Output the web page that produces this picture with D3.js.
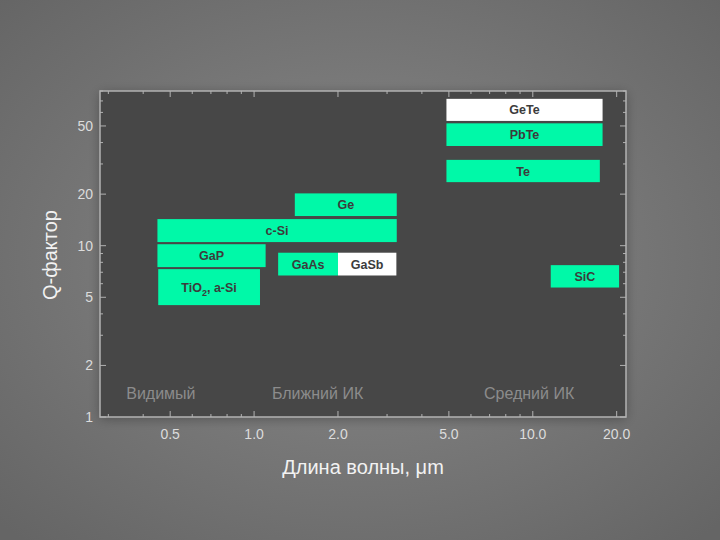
<!DOCTYPE html>
<html>
<head>
<meta charset="utf-8">
<script src="https://cdn.jsdelivr.net/npm/d3@7/dist/d3.min.js"></script>
<style>
  html, body { margin: 0; padding: 0; background: #777; }
  svg { display: block; }
  text { font-family: "Liberation Sans", Arial, sans-serif; }
</style>
</head>
<body>
<svg id="chart" width="720" height="540"></svg>
<script>
// ---- Data ----
const materials = ["GeTe", "PbTe", "Te", "Ge", "c-Si", "GaP", "TiO2, a-Si", "GaAs", "GaSb", "SiC"];
const lambdaMin = [4.9, 4.9, 4.9, 1.4, 0.45, 0.45, 0.453, 1.22, 2.0, 11.6];
const lambdaMax = [17.8, 17.8, 17.4, 3.25, 3.25, 1.1, 1.05, 2.0, 3.24, 20.4];
const qMin = [53.5, 38.2, 23.5, 14.9, 10.5, 7.5, 4.5, 6.7, 6.7, 5.7];
const qMax = [72, 51.8, 31.7, 20.2, 14.3, 10.2, 7.3, 9.1, 9.1, 7.7];
const highlighted = ["GeTe", "GaSb"]; // drawn in white

const xTickValues = [0.5, 1, 2, 5, 10, 20];
const xTickLabels = ["0.5", "1.0", "2.0", "5.0", "10.0", "20.0"];
const yTickValues = [1, 2, 5, 10, 20, 50];
const yTickLabels = ["1", "2", "5", "10", "20", "50"];

const regionNames = ["Видимый", "Ближний ИК", "Средний ИК"];
const regionCenters = [0.463, 1.69, 9.7];

const xTitle = "Длина волны, μm";
const yTitle = "Q-фактор";

// ---- Layout ----
const W = 720, H = 540;
const plot = { left: 100, right: 626, top: 91, bottom: 417 };

const svg = d3.select("#chart");
const defs = svg.append("defs");
const rg = defs.append("radialGradient").attr("id", "bg")
  .attr("cx", "50%").attr("cy", "48%").attr("r", "70%");
rg.append("stop").attr("offset", "0%").attr("stop-color", "#8a8a8a");
rg.append("stop").attr("offset", "100%").attr("stop-color", "#656565");

const flt = defs.append("filter").attr("id", "shadow")
  .attr("x", "-10%").attr("y", "-10%").attr("width", "120%").attr("height", "120%");
flt.append("feDropShadow").attr("dx", 0).attr("dy", 2).attr("stdDeviation", 6)
  .attr("flood-color", "#000").attr("flood-opacity", 0.3);

svg.append("rect").attr("width", W).attr("height", H).attr("fill", "url(#bg)");

const x = d3.scaleLog().domain([0.28, 21.6]).range([plot.left, plot.right]);
const y = d3.scaleLog().domain([1, 80]).range([plot.bottom, plot.top]);

// plot background
svg.append("rect")
  .attr("x", plot.left).attr("y", plot.top)
  .attr("width", plot.right - plot.left).attr("height", plot.bottom - plot.top)
  .attr("fill", "#464646").attr("filter", "url(#shadow)");

// region labels
svg.append("g").selectAll("text").data(regionNames).join("text")
  .attr("x", (d, i) => x(regionCenters[i]))
  .attr("y", 399)
  .attr("text-anchor", "middle")
  .attr("font-size", 16)
  .attr("fill", "#8c8c8c")
  .text(d => d);

// bars
const idx = d3.range(materials.length);
const green = "#00f9a8";
svg.append("g").selectAll("rect").data(idx).join("rect")
  .attr("x", i => x(lambdaMin[i]))
  .attr("y", i => y(qMax[i]))
  .attr("width", i => x(lambdaMax[i]) - x(lambdaMin[i]))
  .attr("height", i => y(qMin[i]) - y(qMax[i]))
  .attr("fill", i => highlighted.includes(materials[i]) ? "#ffffff" : green);

const labels = svg.append("g").selectAll("text").data(idx).join("text")
  .attr("x", i => (x(lambdaMin[i]) + x(lambdaMax[i])) / 2)
  .attr("y", i => (y(qMin[i]) + y(qMax[i])) / 2 + 4.5)
  .attr("text-anchor", "middle")
  .attr("font-size", 12.5)
  .attr("font-weight", "bold")
  .attr("fill", "#3c3c3c");
labels.each(function(i) {
  const t = d3.select(this);
  const name = materials[i];
  const m = name.match(/^(\D+)(\d)(.*)$/);
  if (m) {
    t.append("tspan").text(m[1]);
    t.append("tspan").attr("font-size", 9).attr("dy", 4).text(m[2]);
    t.append("tspan").attr("dy", -4).text(m[3]);
  } else {
    t.text(name);
  }
});

// frame
const axisColor = "#b3b3b3";
svg.append("rect")
  .attr("x", plot.left).attr("y", plot.top)
  .attr("width", plot.right - plot.left).attr("height", plot.bottom - plot.top)
  .attr("fill", "none").attr("stroke", axisColor).attr("stroke-width", 1.5);

// ticks (inward, all four sides)
function logTicks(scale) {
  const [a, b] = scale.domain();
  const out = [];
  for (let e = Math.floor(Math.log10(a)); e <= Math.ceil(Math.log10(b)); e++) {
    for (let k = 1; k <= 9; k++) {
      const v = k * Math.pow(10, e);
      if (v >= a && v <= b) out.push(v);
    }
  }
  return out;
}
const xTicksAll = logTicks(x);
const yTicksAll = logTicks(y);
const isMajor = (arr, v) => arr.some(t => Math.abs(t - v) / v < 1e-9);

const tg = svg.append("g").attr("stroke", axisColor).attr("stroke-width", 1);
tg.selectAll("line.xb").data(xTicksAll).join("line")
  .attr("x1", d => x(d)).attr("x2", d => x(d))
  .attr("y1", plot.bottom).attr("y2", d => plot.bottom - (isMajor(xTickValues, d) ? 6 : 3));
tg.selectAll("line.xt").data(xTicksAll).join("line")
  .attr("x1", d => x(d)).attr("x2", d => x(d))
  .attr("y1", plot.top).attr("y2", d => plot.top + (isMajor(xTickValues, d) ? 6 : 3));
tg.selectAll("line.yl").data(yTicksAll).join("line")
  .attr("y1", d => y(d)).attr("y2", d => y(d))
  .attr("x1", plot.left).attr("x2", d => plot.left + (isMajor(yTickValues, d) ? 6 : 3));
tg.selectAll("line.yr").data(yTicksAll).join("line")
  .attr("y1", d => y(d)).attr("y2", d => y(d))
  .attr("x1", plot.right).attr("x2", d => plot.right - (isMajor(yTickValues, d) ? 6 : 3));

// tick labels
const tickColor = "#dcdcdc";
svg.append("g").selectAll("text").data(xTickValues).join("text")
  .attr("x", d => x(d)).attr("y", 439)
  .attr("text-anchor", "middle").attr("font-size", 14).attr("fill", tickColor)
  .text((d, i) => xTickLabels[i]);
svg.append("g").selectAll("text").data(yTickValues).join("text")
  .attr("x", 93).attr("y", d => y(d) + 5)
  .attr("text-anchor", "end").attr("font-size", 14).attr("fill", tickColor)
  .text((d, i) => yTickLabels[i]);

// axis titles
svg.append("text")
  .attr("x", 363).attr("y", 474)
  .attr("text-anchor", "middle").attr("font-size", 20).attr("fill", "#f2f2f2")
  .text(xTitle);
svg.append("text")
  .attr("transform", "translate(57,255) rotate(-90)")
  .attr("text-anchor", "middle").attr("font-size", 20).attr("fill", "#f2f2f2")
  .text(yTitle);
</script>
</body>
</html>
